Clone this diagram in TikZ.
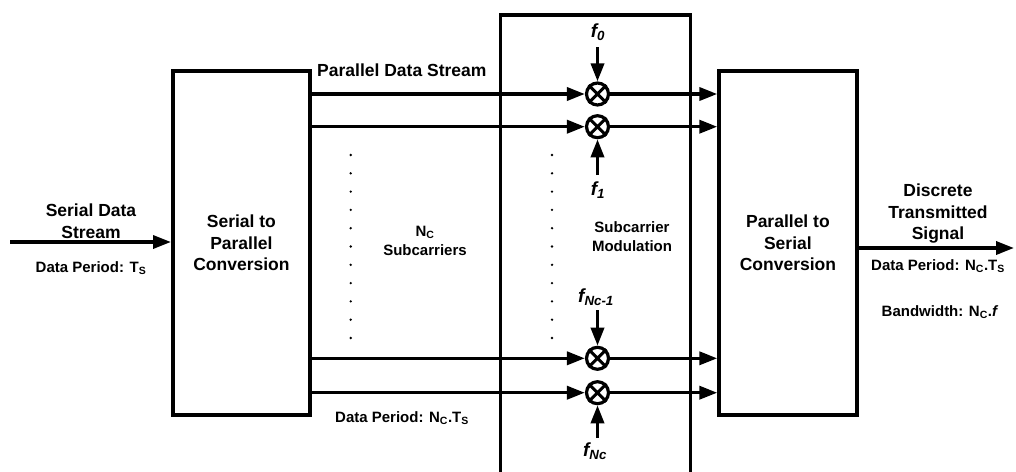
\documentclass[tikz,border=0pt]{standalone}
\usepackage{fontspec}
\setmainfont{Liberation Sans}
\usetikzlibrary{arrows.meta}
\tikzset{
  x=1pt, y=-1pt,
  blockbox/.style={draw, line width=3.5pt, inner sep=0pt, align=center},
  conn/.style={line width=3.5pt, -{Triangle[length=18pt,width=13pt]}},
  bigtxt/.style={font=\fontsize{17.5}{21.5}\selectfont\bfseries, align=center, inner sep=0pt},
  smalltxt/.style={font=\fontsize{15}{19}\selectfont\bfseries, align=center, inner sep=0pt},
  ftxt/.style={font=\fontsize{19}{22}\selectfont\bfseries\itshape, inner sep=0pt},
  mixer/.style={draw, circle, line width=3.2pt, minimum size=22pt, inner sep=0pt},
  dotmark/.style={fill=black}
}
\newcommand{\mixcross}[1]{\draw[line width=3pt] (#1.north east) -- (#1.south west) (#1.north west) -- (#1.south east);}
\begin{document}
\begin{tikzpicture}
\useasboundingbox (0,0) rectangle (1016,471);
\clip (0,0) rectangle (1016,471);
% blocks
\node[blockbox, bigtxt, draw, line width=3.5pt, minimum width=137.3pt, minimum height=344pt] (sp) at (241.4,243) {Serial to\\Parallel\\Conversion};
\node[blockbox, bigtxt, draw, line width=3.5pt, minimum width=137.7pt, minimum height=344pt] (ps) at (787.9,243) {Parallel to\\Serial\\Conversion};
\node[blockbox, minimum width=190.2pt, minimum height=480pt, anchor=north] (mod) at (595.6,13.3) {};
\node[smalltxt] (modtxt) at (632,237) {Subcarrier\\Modulation};
% mixers
\node[mixer] (m0) at (597.5,94) {};
\node[mixer] (m1) at (597.5,126.7) {};
\node[mixer] (m2) at (597.5,358.3) {};
\node[mixer] (m3) at (597.5,392.7) {};
\mixcross{m0}\mixcross{m1}\mixcross{m2}\mixcross{m3}
% parallel lines
\foreach \m in {m0,m1,m2,m3}{
  \draw[conn] (sp.east |- \m) -- (\m);
  \draw[conn] (\m) -- (ps.west |- \m);
}
% carrier inputs
\coordinate (f0a) at (597.5,47);
\coordinate (f1a) at (597.5,175);
\coordinate (f2a) at (597.5,310);
\coordinate (f3a) at (597.5,438);
\draw[conn] (f0a) -- (m0);
\draw[conn] (f1a) -- (m1);
\draw[conn] (f2a) -- (m2);
\draw[conn] (f3a) -- (m3);
\node[ftxt] (lf0) at (598,32) {f\textsubscript{0}};
\node[ftxt] (lf1) at (598,190) {f\textsubscript{1}};
\node[ftxt] (lf2) at (596,297) {f\textsubscript{Nc-1}};
\node[ftxt] (lf3) at (595,451) {f\textsubscript{Nc}};
% input / output
\coordinate (in) at (10,242);
\coordinate (out) at (1014,248);
\draw[conn] (in) -- (sp.west |- in);
\draw[conn] (ps.east |- out) -- (out);
% labels
\node[bigtxt] (ltin) at (91,221) {Serial Data\\Stream};
\node[smalltxt] (ldpin) at (91,268) {Data Period: T\textsubscript{S}};
\node[bigtxt, anchor=base west] (lpds) at (317,76) {Parallel Data Stream};
\node[smalltxt] (lnc) at (425,241) {N\textsubscript{C}\\Subcarriers};
\node[smalltxt] (ldpmid) at (402,418) {Data Period: N\textsubscript{C}.T\textsubscript{S}};
\node[bigtxt] (ldts) at (938,214) {Discrete\\Transmitted\\Signal};
\node[smalltxt] (ldpout) at (938,266) {Data Period: N\textsubscript{C}.T\textsubscript{S}};
\node[smalltxt] (lbw) at (940,312) {Bandwidth: N\textsubscript{C}.\textit{f}};
% dots
\foreach \i in {0,...,10}{
  \fill[dotmark] (350.7,155+18.3*\i) circle (1.3pt);
  \fill[dotmark] (552,155+18.3*\i) circle (1.3pt);
}
\end{tikzpicture}
\end{document}
